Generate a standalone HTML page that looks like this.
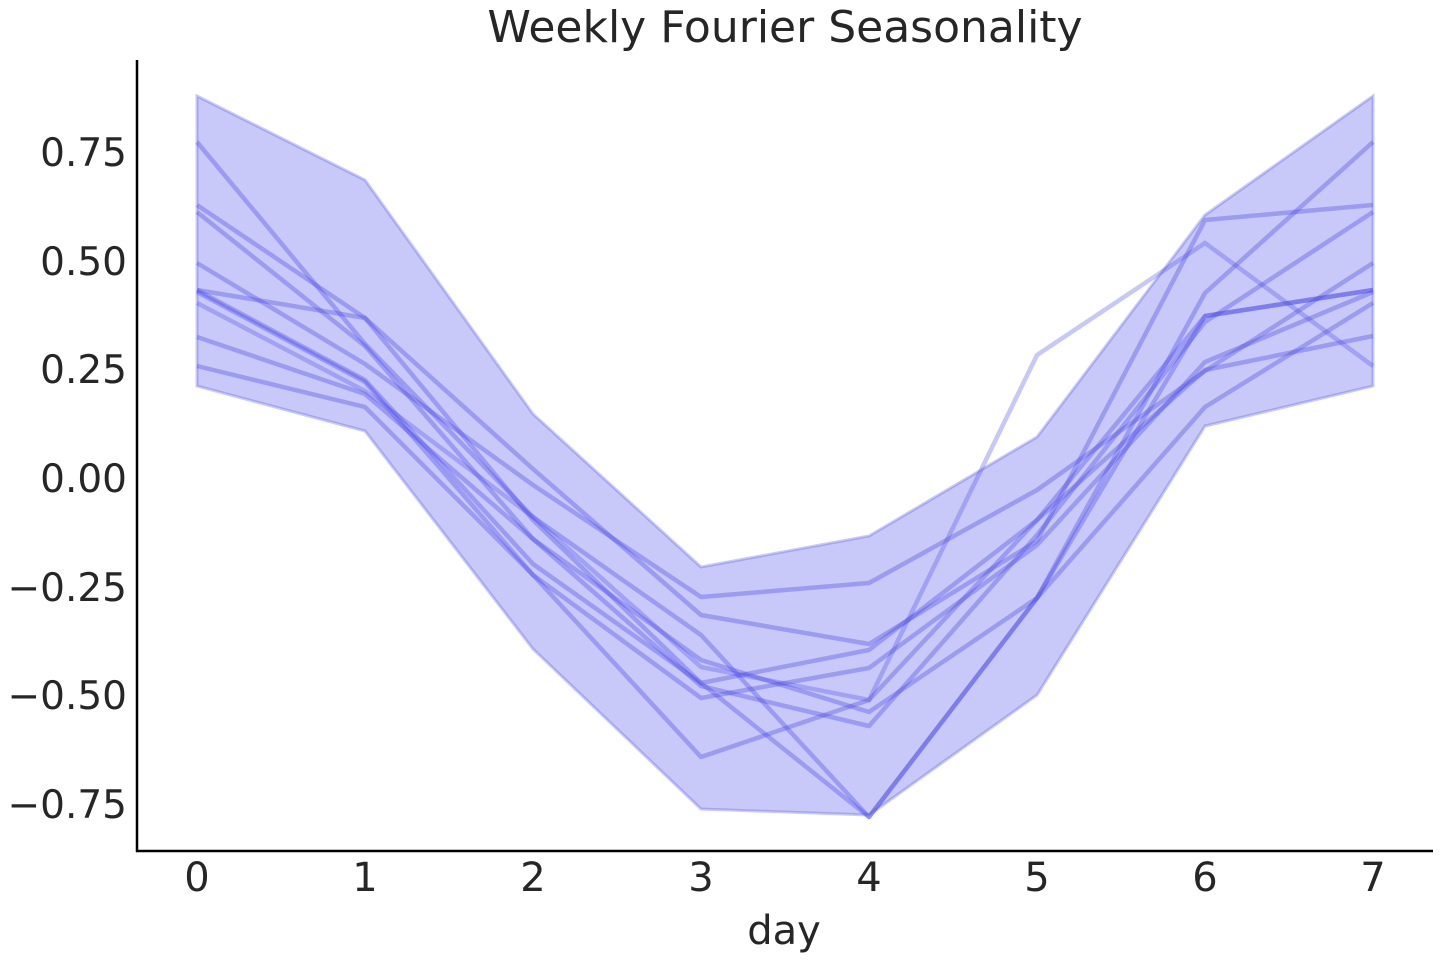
<!DOCTYPE html>
<html><head><style>body{margin:0;background:#fff}svg{display:block}text{font-family:"DejaVu Sans","Liberation Sans",sans-serif;fill:#262626}</style></head>
<body>
<svg width="1440" height="960" xmlns="http://www.w3.org/2000/svg">
<text x="785" y="42" font-size="44" text-anchor="middle">Weekly Fourier Seasonality</text>
<polygon points="197,96 365,180 533,414 701,567 869,536 1037,437 1205,215 1373,96 1373,386 1205,426 1037,695 869,815 701,809 533,649 365,431 197,386" fill="rgba(120,120,240,0.4)" stroke="rgba(80,80,240,0.3)" stroke-width="3"/>
<g fill="none" stroke="rgba(70,70,235,0.35)" stroke-width="4.5" stroke-linejoin="round">
<polyline points="197,142 365,344 533,517 701,635 869,817 1037,598 1205,293 1373,142"/>
<polyline points="197,205 365,318 533,469 701,615 869,644 1037,541 1205,220 1373,205"/>
<polyline points="197,212 365,346 533,539 701,686 869,726 1037,535 1205,322 1373,212"/>
<polyline points="197,263 365,364 533,485 701,597 869,583 1037,490 1205,371 1373,263"/>
<polyline points="197,290 365,380 533,564 701,683 869,650 1037,520 1205,316 1373,290"/>
<polyline points="197,292 365,382 533,575 701,698 869,668 1037,545 1205,362 1373,292"/>
<polyline points="197,337 365,394 533,539 701,660 869,712 1037,598 1205,407 1373,303"/>
<polyline points="197,366 365,407 533,575 701,757 869,700 1037,520 1205,370 1373,336"/>
<polyline points="197,290 365,318 533,520 701,683 869,817 1037,598 1205,316 1373,290"/>
</g>
<polyline points="197,303 365,391 533,517 701,667 869,700 1037,355 1205,243 1373,366" fill="none" stroke="rgba(70,70,235,0.3)" stroke-width="4.5"/>
<line x1="137" y1="60" x2="137" y2="852" stroke="#000" stroke-width="2.5"/>
<line x1="136" y1="851" x2="1433" y2="851" stroke="#000" stroke-width="2.5"/>
<g font-size="39" text-anchor="end">
<text x="127" y="166">0.75</text><text x="127" y="275">0.50</text><text x="127" y="383">0.25</text>
<text x="127" y="492">0.00</text><text x="127" y="601">−0.25</text><text x="127" y="709">−0.50</text><text x="127" y="818">−0.75</text>
</g>
<g font-size="40" text-anchor="middle">
<text x="197" y="891">0</text><text x="365" y="891">1</text><text x="533" y="891">2</text><text x="701" y="891">3</text>
<text x="869" y="891">4</text><text x="1037" y="891">5</text><text x="1205" y="891">6</text><text x="1373" y="891">7</text>
<text x="784" y="944">day</text>
</g>
</svg>
</body></html>
